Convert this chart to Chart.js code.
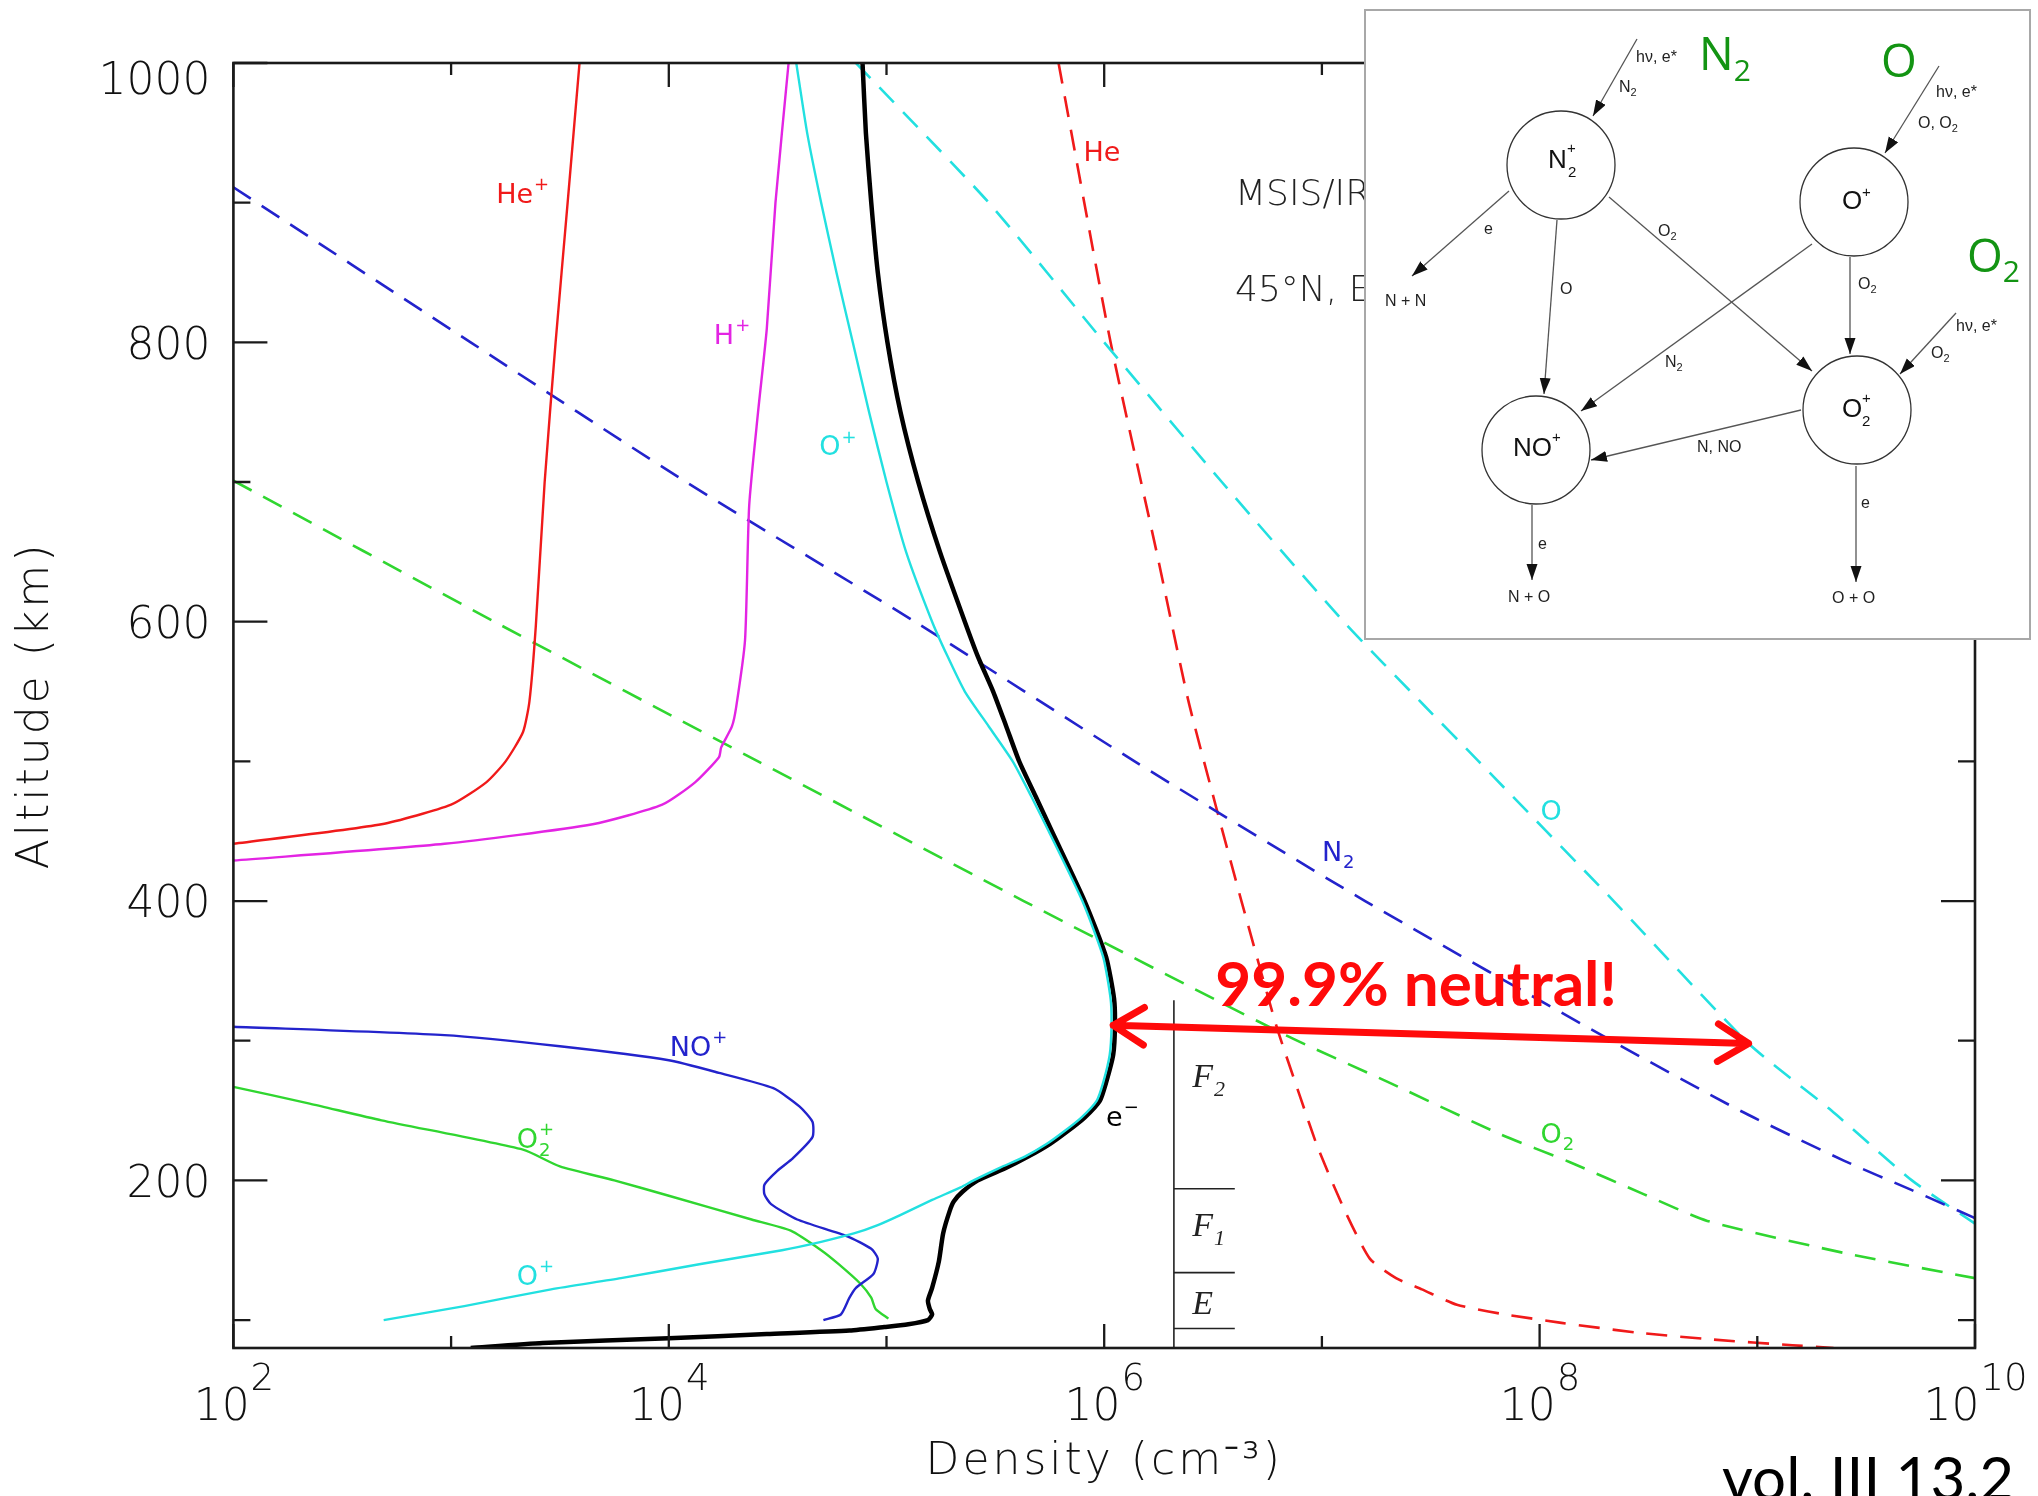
<!DOCTYPE html>
<html><head><meta charset="utf-8">
<script src="https://cdn.jsdelivr.net/npm/chart.js@4.4.1/dist/chart.umd.min.js"></script>
<style>
html,body{margin:0;padding:0;background:#fff;}
#wrap{position:relative;width:2038px;height:1496px;overflow:hidden;background:#fff;}
#c{position:absolute;left:0;top:0;}
#ov{position:absolute;left:0;top:0;}
</style></head><body>
<div id="wrap">
<canvas id="c" width="2038" height="1496"></canvas>
<svg id="ov" width="2038" height="1496" xmlns="http://www.w3.org/2000/svg">
  <defs>
    <marker id="ah" markerWidth="17" markerHeight="12" refX="16" refY="5.5" orient="auto" markerUnits="userSpaceOnUse">
      <path d="M0,0 L16,5.5 L0,11 Z" fill="#111"/>
    </marker>
  </defs>
  <g font-family="'DejaVu Sans', sans-serif" font-weight="200" font-size="36" fill="#222">
    <text x="1235" y="205">MSIS/IRI</text>
    <text x="1235" y="301">45°N, Equinox</text>
  </g>
  <rect x="1365" y="10" width="665" height="629" fill="#fff" stroke="#a8a8a8" stroke-width="2"/>
  <g fill="#fff" stroke="#333" stroke-width="1.3">
    <circle cx="1561" cy="165" r="54"/>
    <circle cx="1854" cy="202" r="54"/>
    <circle cx="1536" cy="450" r="54"/>
    <circle cx="1857" cy="410" r="54"/>
  </g>
  <g stroke="#555" stroke-width="1.3" marker-end="url(#ah)">
    <line x1="1637" y1="39" x2="1593" y2="116"/>
    <line x1="1939" y1="66" x2="1885" y2="153"/>
    <line x1="1509" y1="191" x2="1412" y2="276"/>
    <line x1="1557" y1="220" x2="1544" y2="394"/>
    <line x1="1609" y1="197" x2="1812" y2="371"/>
    <line x1="1812" y1="244" x2="1581" y2="411"/>
    <line x1="1850" y1="257" x2="1850" y2="354"/>
    <line x1="1956" y1="313" x2="1900" y2="374"/>
    <line x1="1801" y1="410" x2="1591" y2="460"/>
    <line x1="1532" y1="505" x2="1532" y2="580"/>
    <line x1="1856" y1="466" x2="1856" y2="582"/>
  </g>
  <g font-family="'Liberation Sans', Arial, sans-serif" font-size="16" fill="#222">
    <text x="1636" y="62">hν, e*</text>
    <text x="1619" y="92">N<tspan font-size="11" dy="4">2</tspan></text>
    <text x="1936" y="97">hν, e*</text>
    <text x="1918" y="128">O, O<tspan font-size="11" dy="4">2</tspan></text>
    <text x="1484" y="234">e</text>
    <text x="1385" y="306">N + N</text>
    <text x="1560" y="294">O</text>
    <text x="1658" y="236">O<tspan font-size="11" dy="4">2</tspan></text>
    <text x="1665" y="367">N<tspan font-size="11" dy="4">2</tspan></text>
    <text x="1858" y="289">O<tspan font-size="11" dy="4">2</tspan></text>
    <text x="1956" y="331">hν, e*</text>
    <text x="1931" y="358">O<tspan font-size="11" dy="4">2</tspan></text>
    <text x="1697" y="452">N, NO</text>
    <text x="1538" y="549">e</text>
    <text x="1508" y="602">N + O</text>
    <text x="1861" y="508">e</text>
    <text x="1832" y="603">O + O</text>
  </g>
  <g font-family="'Liberation Sans', Arial, sans-serif" fill="#111">
    <text x="1548" y="168" font-size="26">N</text>
    <text x="1567" y="153" font-size="15">+</text>
    <text x="1568" y="177" font-size="15">2</text>
    <text x="1842" y="209" font-size="26">O</text>
    <text x="1862" y="197" font-size="15">+</text>
    <text x="1513" y="456" font-size="26">NO</text>
    <text x="1552" y="442" font-size="15">+</text>
    <text x="1842" y="417" font-size="26">O</text>
    <text x="1862" y="403" font-size="15">+</text>
    <text x="1862" y="426" font-size="15">2</text>
  </g>
  <g font-family="'Open Sans', 'Liberation Sans', sans-serif" fill="#139413">
    <text x="1699" y="70" font-size="46">N<tspan font-size="30" dy="11">2</tspan></text>
    <text x="1881" y="77" font-size="46">O</text>
    <text x="1967" y="272" font-size="46">O<tspan font-size="30" dy="10">2</tspan></text>
  </g>
  <text x="1722" y="1500" font-family="Lato, 'Open Sans', sans-serif" font-size="60" fill="#000">vol. III 13.2</text>
</svg>
</div>
<script>
// ---------------- DATA (altitude km, density cm^-3) ----------------
const altE  = [1000,950,900,850,800,750,700,650,600,575,550,525,500,475,450,400,360,330,310,290,270,257,245,235,226,217,209,200,192,185,178,162,142,123,114,108,104,100,97,95,92.5,90,87,83.5,80];
const densE = [7.76e4,8.04e4,8.51e4,9.12e4,1.01e5,1.16e5,1.40e5,1.76e5,2.29e5,2.63e5,3.09e5,3.55e5,4.07e5,4.84e5,5.75e5,8.13e5,1.02e6,1.11e6,1.12e6,1.10e6,1.02e6,9.55e5,8.13e5,6.76e5,5.62e5,4.47e5,3.55e5,2.63e5,2.24e5,2.04e5,1.95e5,1.82e5,1.74e5,1.62e5,1.55e5,1.58e5,1.62e5,1.55e5,1.26e5,9.77e4,6.76e4,2.82e4,1.0e4,2.63e3,1.23e3];

const altOp  = [1000,950,900,850,800,750,700,650,600,575,550,525,500,475,450,400,360,330,310,290,270,257,245,235,226,217,209,200,195,186,175,168,162,156,150,140,130,122,110,100];
const densOp = [3.85e4,4.32e4,5.01e4,5.89e4,7.00e4,8.32e4,1.0e5,1.23e5,1.62e5,1.91e5,2.29e5,2.95e5,3.80e5,4.62e5,5.56e5,7.94e5,9.89e5,1.07e6,1.08e6,1.06e6,9.89e5,9.23e5,7.85e5,6.53e5,5.43e5,4.32e5,3.31e5,2.51e5,2.19e5,1.62e5,1.15e5,9.12e4,7.08e4,5.01e4,3.31e4,1.38e4,6.03e3,2.88e3,1.15e3,4.90e2];

const altHp  = [1000,900,810,750,683,587,539,525,510,503,485,469,455,441,429];
const densHp = [3.55e4,3.09e4,2.82e4,2.57e4,2.34e4,2.24e4,2.04e4,1.95e4,1.74e4,1.70e4,1.32e4,9.33e3,4.47e3,9.33e2,1.0e2];

const altHep  = [1000,900,800,700,597,543,521,500,485,469,455,441];
const densHep = [3.89e3,3.43e3,3.02e3,2.69e3,2.45e3,2.29e3,2.14e3,1.78e3,1.45e3,1.0e3,4.79e2,1.0e2];

const altNOp  = [310,304,296,286,277,266,253,242,231,216,207,197,190,183,172,160,151,144,133,123,116,104,100];
const densNOp = [1.0e2,9.33e2,3.16e3,1.0e4,1.70e4,3.02e4,3.98e4,4.57e4,4.57e4,3.72e4,3.16e4,2.75e4,2.75e4,2.95e4,3.89e4,6.61e4,8.51e4,9.12e4,8.71e4,7.24e4,6.76e4,6.17e4,5.13e4];

const altO2p  = [267,255,243,222,210,200,189,172,164,150,140,126,116,108,101];
const densO2p = [1.0e2,2.24e2,4.79e2,2.14e3,3.16e3,5.62e3,1.0e4,2.40e4,3.63e4,5.01e4,6.03e4,7.59e4,8.51e4,8.91e4,1.02e5];

const altN2  = [911,800,700,600,500,400,300,250,214,193,173];
const densN2 = [1.0e2,1.23e3,1.20e4,1.35e5,1.38e6,1.58e7,2.14e8,8.32e8,2.51e9,5.13e9,1.0e10];

const altO2  = [701,600,500,400,305,270,233,213,190,171,148,130];
const densO2 = [1.0e2,1.58e3,2.57e4,4.27e5,6.61e6,2.04e7,6.61e7,1.38e8,3.02e8,5.89e8,2.51e9,1.0e10];

const altO  = [1000,900,800,700,600,540,500,400,298,250,200,169];
const densO = [7.24e4,2.95e5,1.0e6,3.47e6,1.26e7,2.95e7,5.25e7,2.19e8,9.12e8,2.19e9,5.13e9,1.0e10];

const altHe  = [1000,800,650,544,467,400,311,260,224,180,144,130,122,111,104.6,98,91,86,82,80];
const densHe = [6.17e5,1.07e6,1.74e6,2.43e6,3.27e6,4.27e6,6.17e6,7.94e6,9.55e6,1.26e7,1.66e7,2.19e7,2.88e7,4.17e7,6.61e7,1.26e8,2.82e8,6.31e8,1.45e9,2.24e9];

// ionospheric layer markers
const layerDens = [2.09e6, 3.98e6];
const layerTop = 329;
const layerBounds = [194, 134, 94];

// neutral-fraction arrow
const arrowDens = [1.10e6, 9.12e8];
const arrowAlt  = [311, 298];

// ticks
const xMajor = [1e2,1e4,1e6,1e8,1e10];
const xMinor = [1e3,1e5,1e7,1e9];
const xTickExponents = ['2','4','6','8','10'];
const yMajor = [200,400,600,800,1000];
const yMinor = [100,300,500,700,900];
const yTickLabels = ['200','400','600','800','1000'];

// ---------------- STYLE ----------------
const RED='#f01a1a', MAG='#e324e3', CYAN='#22e0e0', BLUE='#2323cc', GREEN='#30d630', BLACK='#000';
const FONT = "'DejaVu Sans', sans-serif";

function pts(alt, dens){ return alt.map((a,i)=>({x:dens[i], y:a})); }
function ds(label, alt, dens, color, w, dash, tension){
  return {label, data:pts(alt,dens), borderColor:color, backgroundColor:color, borderWidth:w,
    borderDash:dash||[], pointRadius:0, showLine:true, tension:(tension===undefined?0.2:tension), fill:false};
}
const datasets = [
  ds('O+', altOp, densOp, CYAN, 2.4),
  ds('e-', altE, densE, BLACK, 4.5),
  ds('H+', altHp, densHp, MAG, 2.4),
  ds('He+', altHep, densHep, RED, 2.4),
  ds('NO+', altNOp, densNOp, BLUE, 2.4),
  ds('O2+', altO2p, densO2p, GREEN, 2.4),
  ds('N2', altN2, densN2, BLUE, 2.6, [21,13]),
  ds('O2', altO2, densO2, GREEN, 2.6, [21,13]),
  ds('O', altO, densO, CYAN, 2.6, [21,13]),
  ds('He', altHe, densHe, RED, 2.6, [21,13]),
  ds('layer', [80, layerTop], [layerDens[0], layerDens[0]], '#222', 1.6, [], 0),
];
layerBounds.forEach(b => datasets.push(ds('layer', [b,b], layerDens, '#222', 1.6, [], 0)));

// curve annotations (anchored in data space)
const curveLabels = [
  {base:'He', sup:'+', x:1.61e3, y:900, c:RED},
  {base:'H', sup:'+', x:1.61e4, y:799, c:MAG},
  {base:'O', sup:'+', x:4.91e4, y:719, c:CYAN},
  {base:'He', x:8.03e5, y:930, c:RED},
  {base:'N', sub:'2', x:1.0e7, y:429, c:BLUE},
  {base:'O', x:1.01e8, y:458, c:CYAN},
  {base:'O', sub:'2', x:1.01e8, y:227, c:GREEN},
  {base:'e', sup:'−', x:1.02e6, y:239, c:BLACK},
  {base:'NO', sup:'+', x:1.01e4, y:289, c:BLUE},
  {base:'O', sub:'2', sup:'+', x:2.0e3, y:223, c:GREEN},
  {base:'O', sup:'+', x:2.0e3, y:125, c:CYAN},
];
const layerLabels = [
  {base:'F', sub:'2', x:2.54e6, y:267},
  {base:'F', sub:'1', x:2.54e6, y:160},
  {base:'E', x:2.54e6, y:104},
];

function rich(ctx, px, py, l, size, small, fam, style, color){
  ctx.fillStyle = color;
  ctx.textAlign='left'; ctx.textBaseline='alphabetic';
  ctx.font = `${style} ${size}px ${fam}`;
  ctx.fillText(l.base, px, py);
  const w = ctx.measureText(l.base).width;
  ctx.font = `${style} ${small}px ${fam}`;
  if (l.sup) ctx.fillText(l.sup, px+w+1, py - size*0.48);
  if (l.sub) ctx.fillText(l.sub, px+w+1, py + size*0.27);
}

const deco = {
  id:'deco',
  beforeDraw(chart){ chart.ctx.letterSpacing='3px'; },
  beforeDatasetsDraw(chart){ chart.ctx.letterSpacing='0px'; },
  afterDatasetsDraw(chart){
    const {ctx, chartArea:a, scales:{x, y}} = chart;
    ctx.save();
    ctx.letterSpacing='0px';
    // frame
    ctx.strokeStyle='#1a1a1a'; ctx.lineWidth=2.6;
    ctx.strokeRect(a.left, a.top, a.right-a.left, a.bottom-a.top);
    // inward ticks
    ctx.lineWidth=2.3; ctx.beginPath();
    const yt = (v,len)=>{const p=y.getPixelForValue(v); ctx.moveTo(a.left,p); ctx.lineTo(a.left+len,p); ctx.moveTo(a.right,p); ctx.lineTo(a.right-len,p);};
    const xt = (v,len)=>{const p=x.getPixelForValue(v); ctx.moveTo(p,a.bottom); ctx.lineTo(p,a.bottom-len); ctx.moveTo(p,a.top); ctx.lineTo(p,a.top+len);};
    yMajor.forEach(v=>yt(v,34)); yMinor.forEach(v=>yt(v,17));
    xMajor.forEach(v=>xt(v,24)); xMinor.forEach(v=>xt(v,12));
    ctx.stroke();
    // y tick labels
    ctx.fillStyle='#111'; ctx.font=`200 44px ${FONT}`; ctx.textAlign='right'; ctx.textBaseline='middle';
    yMajor.forEach((v,i)=>{
      const p = Math.max(y.getPixelForValue(v)+5, a.top+20);
      ctx.fillText(yTickLabels[i], a.left-23, p);
    });
    // x tick labels 10^n
    ctx.textBaseline='alphabetic'; ctx.textAlign='left';
    xMajor.forEach((v,i)=>{
      const px = x.getPixelForValue(v);
      ctx.font = `200 44px ${FONT}`; const w1 = ctx.measureText('10').width;
      ctx.font = `200 37px ${FONT}`; const w2 = ctx.measureText(xTickExponents[i]).width;
      const s = px - (w1+w2)/2;
      ctx.font = `200 44px ${FONT}`; ctx.fillText('10', s, a.bottom+72);
      ctx.font = `200 37px ${FONT}`; ctx.fillText(xTickExponents[i], s+w1+1, a.bottom+42);
    });
    // curve labels
    curveLabels.forEach(l=>rich(ctx, x.getPixelForValue(l.x), y.getPixelForValue(l.y), l, 27, 18, FONT, '', l.c));
    layerLabels.forEach(l=>rich(ctx, x.getPixelForValue(l.x), y.getPixelForValue(l.y), l, 34, 22, "'Liberation Serif', 'DejaVu Serif', serif", 'italic', '#222'));
    // arrow
    const x1=x.getPixelForValue(arrowDens[0]), y1=y.getPixelForValue(arrowAlt[0]);
    const x2=x.getPixelForValue(arrowDens[1]), y2=y.getPixelForValue(arrowAlt[1]);
    ctx.strokeStyle='#ff0a0a'; ctx.lineWidth=7; ctx.lineCap='round'; ctx.lineJoin='round';
    ctx.beginPath(); ctx.moveTo(x1,y1); ctx.lineTo(x2,y2);
    const ang=Math.atan2(y2-y1,x2-x1), L=36, h=0.55;
    ctx.moveTo(x1+L*Math.cos(ang-h), y1+L*Math.sin(ang-h)); ctx.lineTo(x1,y1); ctx.lineTo(x1+L*Math.cos(ang+h), y1+L*Math.sin(ang+h));
    ctx.moveTo(x2-L*Math.cos(ang-h), y2-L*Math.sin(ang-h)); ctx.lineTo(x2,y2); ctx.lineTo(x2-L*Math.cos(ang+h), y2-L*Math.sin(ang+h));
    ctx.stroke();
    ctx.fillStyle='#ff0a0a'; ctx.font="bold 62px Lato, 'Open Sans', sans-serif";
    ctx.fillText('99.9% neutral!', x.getPixelForValue(3.24e6), y.getPixelForValue(325));
    ctx.restore();
  }
};

new Chart(document.getElementById('c'), {
  type:'scatter',
  data:{datasets},
  options:{
    responsive:false, animation:false, devicePixelRatio:1,
    layout:{padding:{left:0, right:63, top:63, bottom:0}},
    plugins:{legend:{display:false}, tooltip:{enabled:false}},
    scales:{
      x:{type:'logarithmic', position:'bottom', min:1e2, max:1e10,
        grid:{display:false, drawTicks:false}, border:{display:false},
        ticks:{display:false},
        title:{display:true, text:'Density (cm⁻³)', color:'#111', font:{family:FONT, size:44, weight:'200'}, padding:{top:0, bottom:7}},
        afterFit:s=>{s.height=148;}
      },
      y:{type:'linear', min:80, max:1000,
        grid:{display:false, drawTicks:false}, border:{display:false},
        afterBuildTicks:s=>{s.ticks=[...yMinor,...yMajor].sort((p,q)=>p-q).map(v=>({value:v}));},
        ticks:{display:false},
        title:{display:true, text:'Altitude (km)', color:'#111', font:{family:FONT, size:44, weight:'200'}, padding:{top:10, bottom:0}},
        afterFit:s=>{s.width=233.4;}
      }
    }
  },
  plugins:[deco]
});
</script>
</body></html>
